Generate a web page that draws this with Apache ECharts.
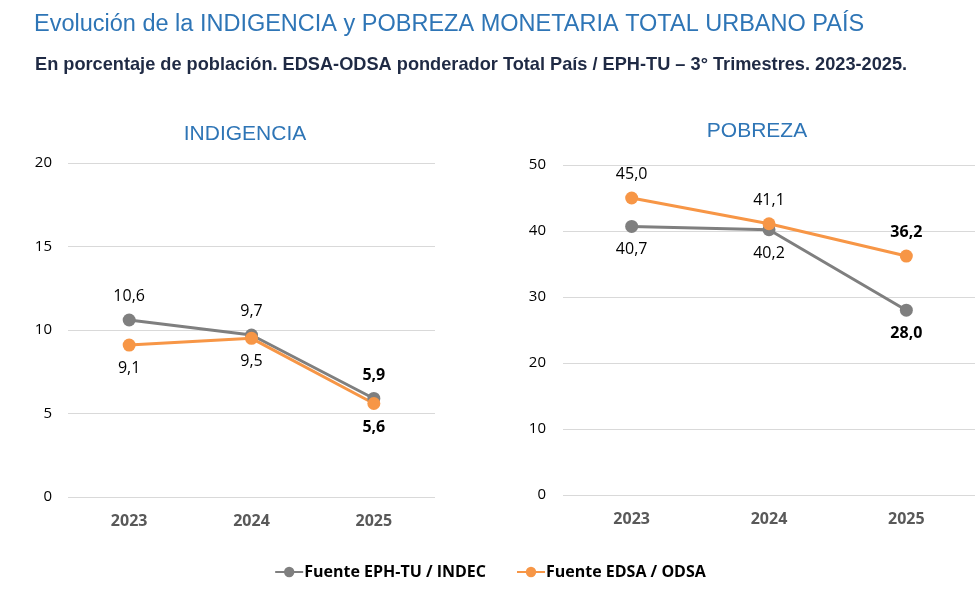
<!DOCTYPE html>
<html>
<head>
<meta charset="utf-8">
<script src="https://cdn.jsdelivr.net/npm/echarts@6/dist/echarts.min.js"></script>
<style>
  html, body { margin: 0; padding: 0; background: #fff; }
  #main { width: 980px; height: 592px; }
</style>
</head>
<body>
<div id="main"></div>
<script>
// datos
var years = ['2023', '2024', '2025'];
var indigIndec = [10.6, 9.7, 5.9];
var indigOdsa = [9.1, 9.5, 5.6];
var pobrezaIndec = [40.7, 40.2, 28.0];
var pobrezaOdsa = [45.0, 41.1, 36.2];
var indigTicks = [0, 20, 5];   // min, max, interval
var pobrezaTicks = [0, 50, 10];

var GRAY = '#7f7f7f';
var ORANGE = '#f79646';
var head = '"Liberation Sans", sans-serif';
var base = '"Open Sans", "Liberation Sans", sans-serif';

var chart = echarts.init(document.getElementById('main'));

function fmt(p) {
  return p.value.toFixed(1).replace('.', ',');
}

// el ultimo punto va en negrita
function points(arr) {
  return arr.map(function (v, i) {
    if (i == arr.length - 1) {
      return { value: v, label: { fontWeight: 'bold' } };
    }
    return v;
  });
}

function lineSerie(name, color, vals, idx, pos) {
  return {
    name: name,
    type: 'line',
    xAxisIndex: idx,
    yAxisIndex: idx,
    data: points(vals),
    symbol: 'circle',
    symbolSize: 13,
    lineStyle: { color: color, width: 3 },
    itemStyle: { color: color },
    label: {
      show: true,
      position: pos,
      distance: 9,
      formatter: fmt,
      fontFamily: base,
      fontSize: 16,
      color: '#000'
    },
    emphasis: { disabled: true },
    animation: false
  };
}

function xAx(idx) {
  return {
    type: 'category',
    gridIndex: idx,
    data: years,
    axisLine: { show: false },
    axisTick: { show: false },
    axisLabel: { margin: 16, fontFamily: base, fontSize: 16, fontWeight: 'bold', color: '#595959' }
  };
}

function yAx(idx, t, margin) {
  return {
    type: 'value',
    gridIndex: idx,
    min: t[0],
    max: t[1],
    interval: t[2],
    axisLine: { show: false },
    axisTick: { show: false },
    splitLine: { lineStyle: { color: '#d9d9d9', width: 1 } },
    axisLabel: { margin: margin, fontFamily: base, fontSize: 15, color: '#000' }
  };
}

var option = {
  backgroundColor: '#fff',
  title: [
    {
      text: 'Evolución de la INDIGENCIA y POBREZA MONETARIA TOTAL URBANO PAÍS',
      left: 29, top: 8,
      textStyle: { fontFamily: head, fontSize: 23.5, fontWeight: 'normal', color: '#2e75b6' }
    },
    {
      text: 'En porcentaje de población. EDSA-ODSA ponderador Total País / EPH-TU – 3° Trimestres. 2023-2025.',
      left: 30, top: 51,
      textStyle: { fontFamily: head, fontSize: 18.2, fontWeight: 'bold', color: '#1f2a44' }
    },
    {
      text: 'INDIGENCIA',
      left: 240, top: 119, textAlign: 'center',
      textStyle: { fontFamily: head, fontSize: 21, fontWeight: 'normal', color: '#2e75b6' }
    },
    {
      text: 'POBREZA',
      left: 752, top: 116, textAlign: 'center',
      textStyle: { fontFamily: head, fontSize: 21, fontWeight: 'normal', color: '#2e75b6' }
    }
  ],
  legend: {
    bottom: 7,
    left: 'center',
    itemGap: 30,
    itemWidth: 28,
    itemHeight: 13,
    data: ['Fuente EPH-TU / INDEC', 'Fuente EDSA / ODSA'],
    textStyle: { fontFamily: base, fontSize: 16, fontWeight: 'bold', color: '#000', padding: [0, 0, 0, -4] }
  },
  grid: [
    { left: 68, right: 545, top: 163, bottom: 95 },
    { left: 563, right: 5, top: 165, bottom: 97 }
  ],
  xAxis: [xAx(0), xAx(1)],
  yAxis: [yAx(0, indigTicks, 16), yAx(1, pobrezaTicks, 17)],
  series: [
    lineSerie('Fuente EPH-TU / INDEC', GRAY, indigIndec, 0, 'top'),
    lineSerie('Fuente EDSA / ODSA', ORANGE, indigOdsa, 0, 'bottom'),
    lineSerie('Fuente EPH-TU / INDEC', GRAY, pobrezaIndec, 1, 'bottom'),
    lineSerie('Fuente EDSA / ODSA', ORANGE, pobrezaOdsa, 1, 'top')
  ]
};

chart.setOption(option);
</script>
</body>
</html>
